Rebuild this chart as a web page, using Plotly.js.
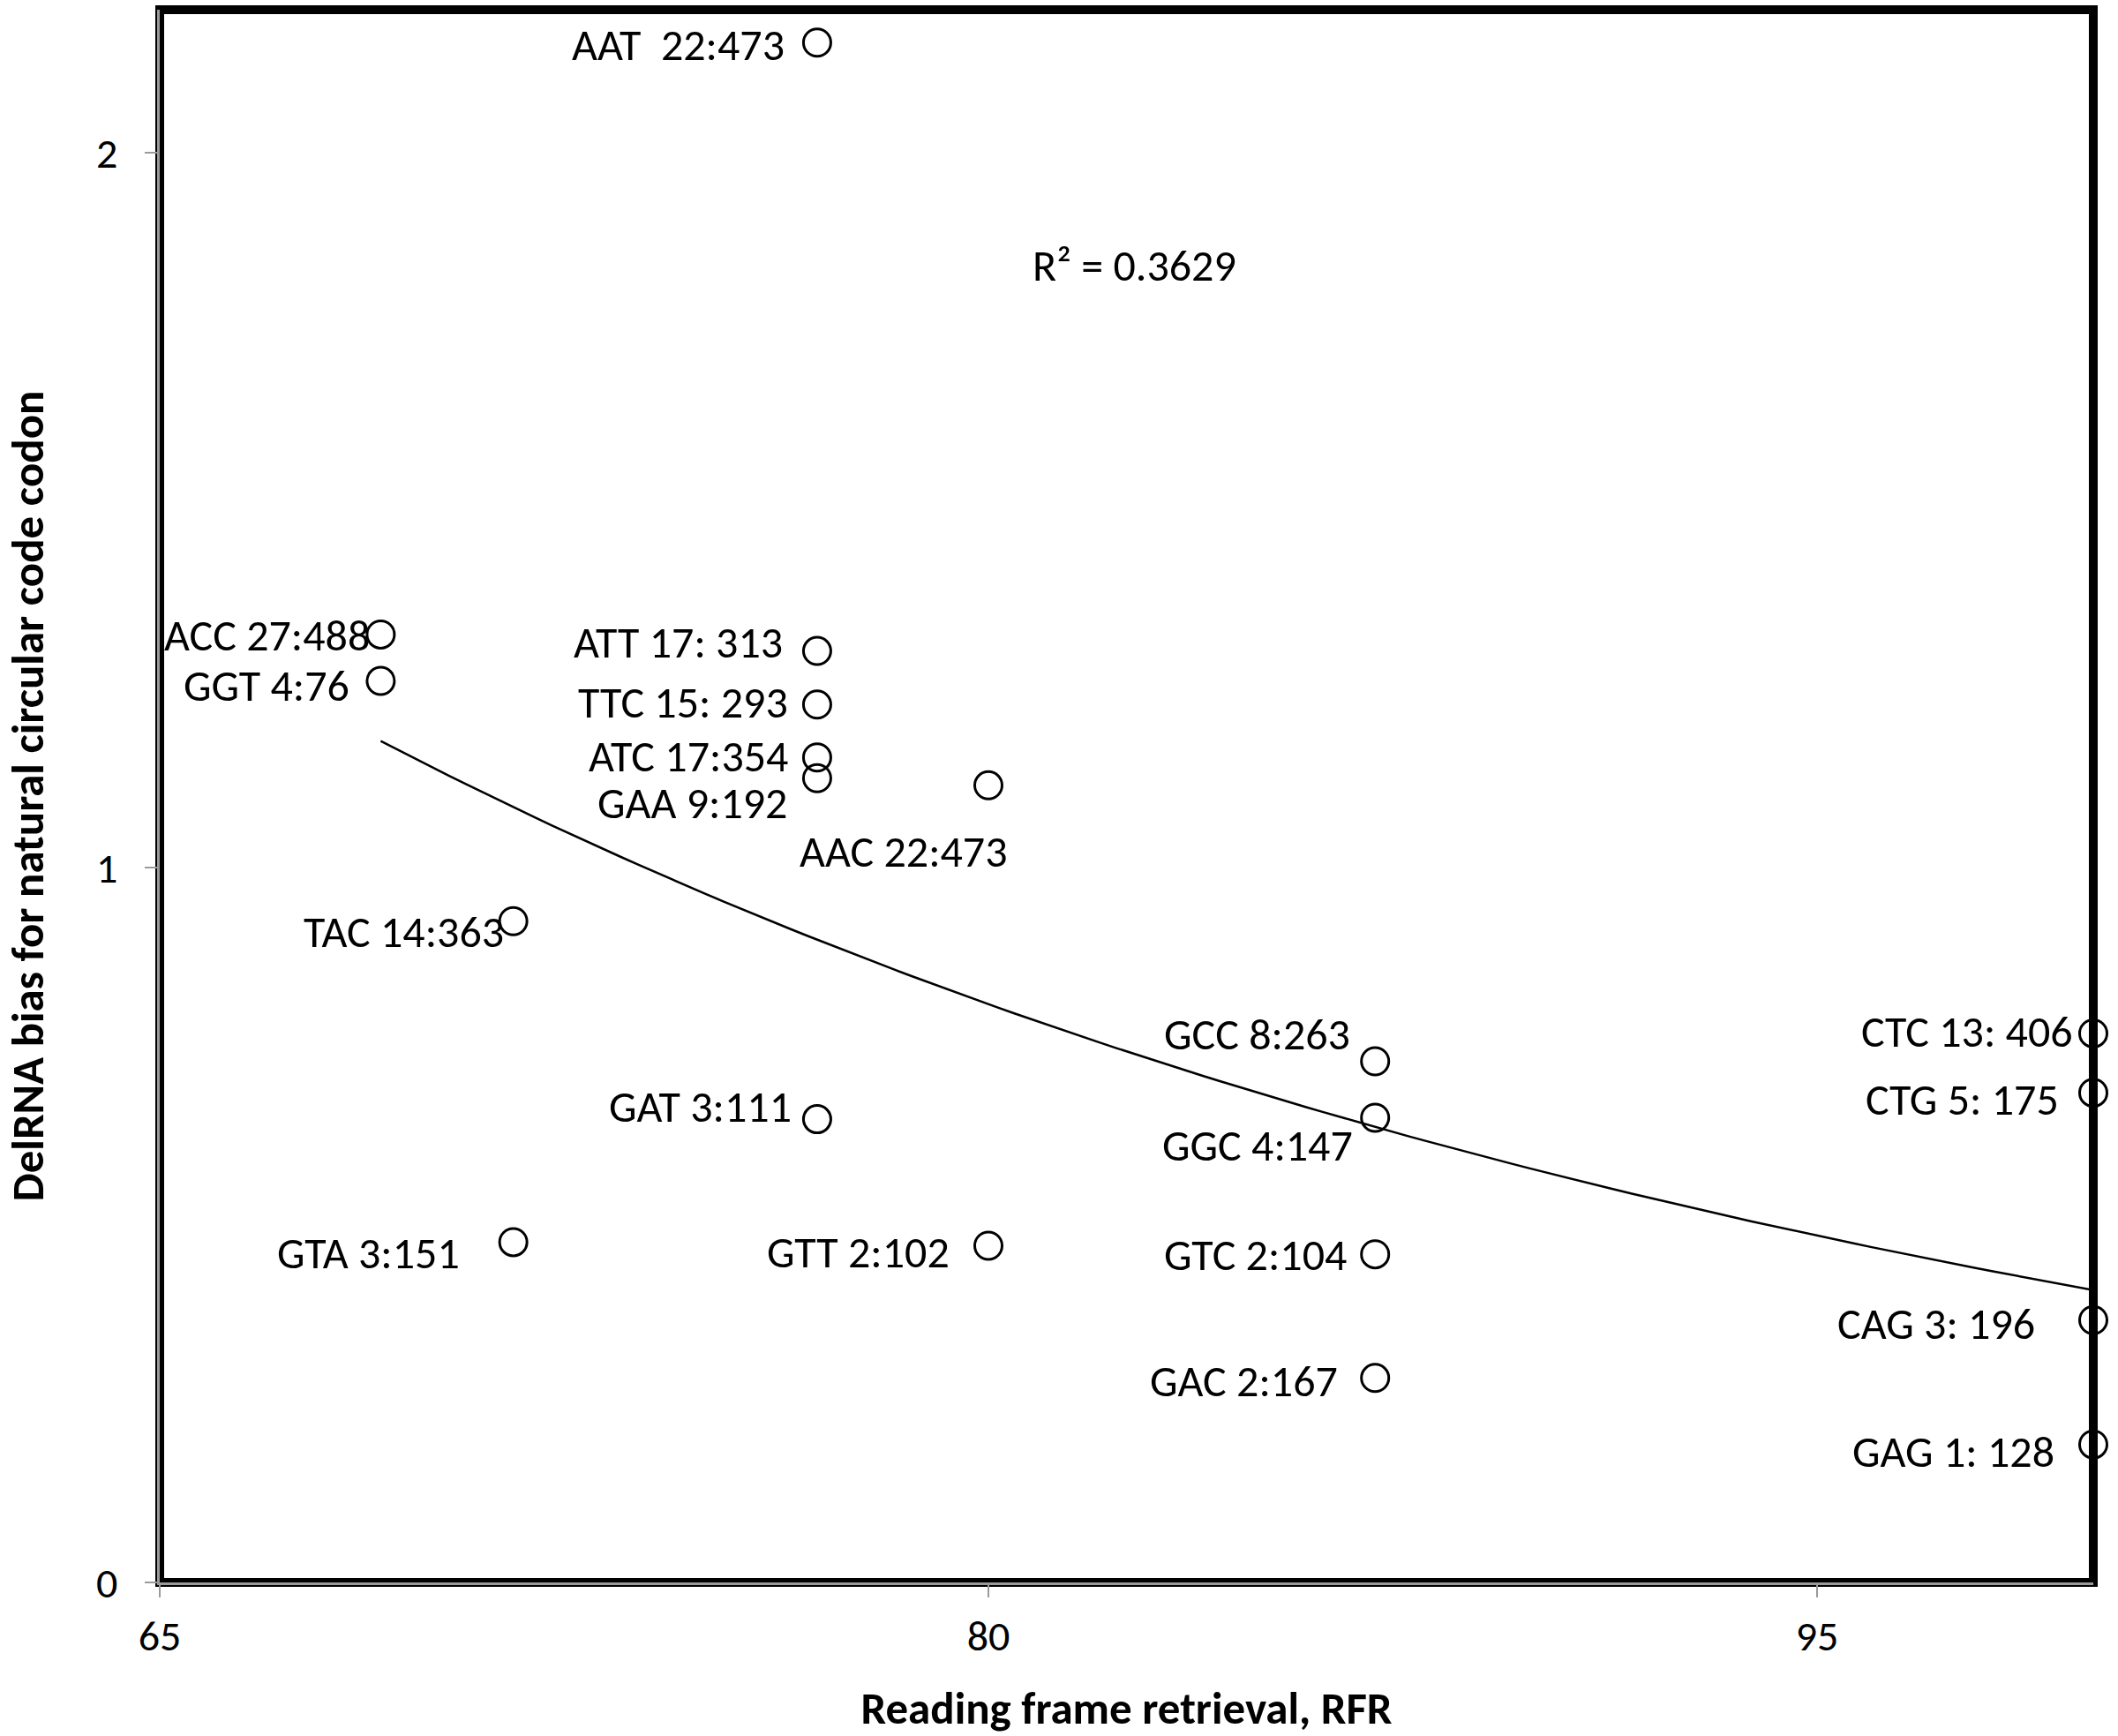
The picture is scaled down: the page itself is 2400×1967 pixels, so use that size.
<!DOCTYPE html>
<html>
<head>
<meta charset="utf-8">
<script src="https://cdn.plot.ly/plotly-3.0.1.min.js"></script>
<style>
  html, body { margin: 0; padding: 0; background: #fff; }
  #chart { width: 2400px; height: 1967px; }
</style>
</head>
<body>
<div id="chart"></div>
<script>
// codon labels, as printed next to each point
var labels = ['AAT\u00a0 22:473', 'ACC 27:488', 'GGT 4:76', 'ATT 17: 313', 'TTC 15: 293',
  'ATC 17:354', 'GAA 9:192', 'AAC 22:473', 'TAC 14:363', 'GCC 8:263',
  'GGC 4:147', 'GAT 3:111', 'GTA 3:151', 'GTT 2:102', 'GTC 2:104',
  'GAC 2:167', 'CTC 13: 406', 'CTG 5: 175', 'CAG 3: 196', 'GAG 1: 128'];

// reading frame retrieval (x)
var rfr = [76.9, 69, 69, 76.9, 76.9,
  76.9, 76.9, 80, 71.4, 87,
  87, 76.9, 71.4, 80, 87,
  87, 100, 100, 100, 100];

// DelRNA bias (y)
var bias = [2.154, 1.326, 1.261, 1.303, 1.228,
  1.154, 1.125, 1.115, 0.925, 0.729,
  0.650, 0.648, 0.476, 0.471, 0.459,
  0.286, 0.768, 0.685, 0.367, 0.193];

var r2Text = 'R\u00b2 = 0.3629';

// label offsets in pixels (right edge of text vs. marker centre)
var labelShiftX = [-35, -10, -33, -37, -31, -31, -32, 24, -9, -26,
  -23, -27, -59, -42, -30, -40, -21, -37, -64, -42];
var labelShiftY = [-2, -1, -5, 10, 3, 2, -28, -75, -12, 31,
  -31, 15, -12, -7, 0, -3, 2, -7, -4, -8];

// exponential trendline (least squares on ln y), like Excel
var n = rfr.length, sx = 0, sy = 0, sxx = 0, sxy = 0;
for (var i = 0; i < n; i++) {
  var ly = Math.log(bias[i]);
  sx += rfr[i]; sy += ly; sxx += rfr[i] * rfr[i]; sxy += rfr[i] * ly;
}
var b = (n * sxy - sx * sy) / (n * sxx - sx * sx);
var a = Math.exp((sy - b * sx) / n);
var xmin = Math.min.apply(null, rfr), xmax = Math.max.apply(null, rfr);
var trendX = [], trendY = [];
for (var k = 0; k <= 100; k++) {
  var xv = xmin + (xmax - xmin) * k / 100;
  trendX.push(xv);
  trendY.push(a * Math.exp(b * xv));
}

var font = 'Carlito, Calibri, Lato, sans-serif';

var points = {
  x: rfr,
  y: bias,
  mode: 'markers',
  type: 'scatter',
  marker: { symbol: 'circle-open', size: 31, color: '#000', line: { width: 3, color: '#000' } },
  cliponaxis: false,
  hoverinfo: 'skip'
};

var trend = {
  x: trendX,
  y: trendY,
  mode: 'lines',
  type: 'scatter',
  line: { color: '#000', width: 2.5 },
  cliponaxis: false,
  hoverinfo: 'skip'
};

var annotations = labels.map(function (t, i) {
  return {
    x: rfr[i], y: bias[i], xref: 'x', yref: 'y',
    text: t, showarrow: false,
    xanchor: 'right', yanchor: 'middle',
    xshift: labelShiftX[i], yshift: labelShiftY[i],
    font: { family: font, size: 50, color: '#000' }
  };
});
annotations.push({
  x: 82.64, y: 1.843, xref: 'x', yref: 'y',
  text: r2Text, showarrow: false,
  xanchor: 'center', yanchor: 'middle',
  font: { family: font, size: 50, color: '#000' }
});

var layout = {
  width: 2400,
  height: 1967,
  margin: { l: 181, r: 28, t: 11, b: 174, autoexpand: false },
  paper_bgcolor: '#fff',
  plot_bgcolor: '#fff',
  showlegend: false,
  xaxis: {
    range: [65, 100],
    tick0: 65,
    dtick: 15,
    showgrid: false,
    zeroline: false,
    showline: true,
    linecolor: '#9a9a9a',
    linewidth: 3,
    ticks: 'outside',
    ticklen: 14,
    tickwidth: 2,
    tickcolor: '#9a9a9a',
    ticklabelstandoff: 2,
    tickfont: { family: font, size: 48, color: '#000' },
    title: {
      text: 'Reading frame retrieval, RFR',
      font: { family: font, size: 51, color: '#000', weight: 'bold' },
      standoff: 39
    },
    automargin: true
  },
  yaxis: {
    range: [0, 2.2],
    tick0: 0,
    dtick: 1,
    showgrid: false,
    zeroline: false,
    showline: true,
    linecolor: '#9a9a9a',
    linewidth: 3,
    ticks: 'outside',
    ticklen: 14,
    tickwidth: 2,
    tickcolor: '#9a9a9a',
    ticklabelstandoff: 21,
    tickfont: { family: font, size: 48, color: '#000' },
    title: {
      text: 'DelRNA bias for natural circular code codon',
      font: { family: font, size: 51, color: '#000', weight: 'bold' },
      standoff: 67
    },
    automargin: true
  },
  shapes: [{
    type: 'rect', xref: 'paper', yref: 'paper',
    x0: 0, x1: 1, y0: 0, y1: 1,
    line: { color: '#000', width: 10 },
    layer: 'below'
  }],
  annotations: annotations
};

Plotly.newPlot('chart', [trend, points], layout, { staticPlot: true });
</script>
</body>
</html>
